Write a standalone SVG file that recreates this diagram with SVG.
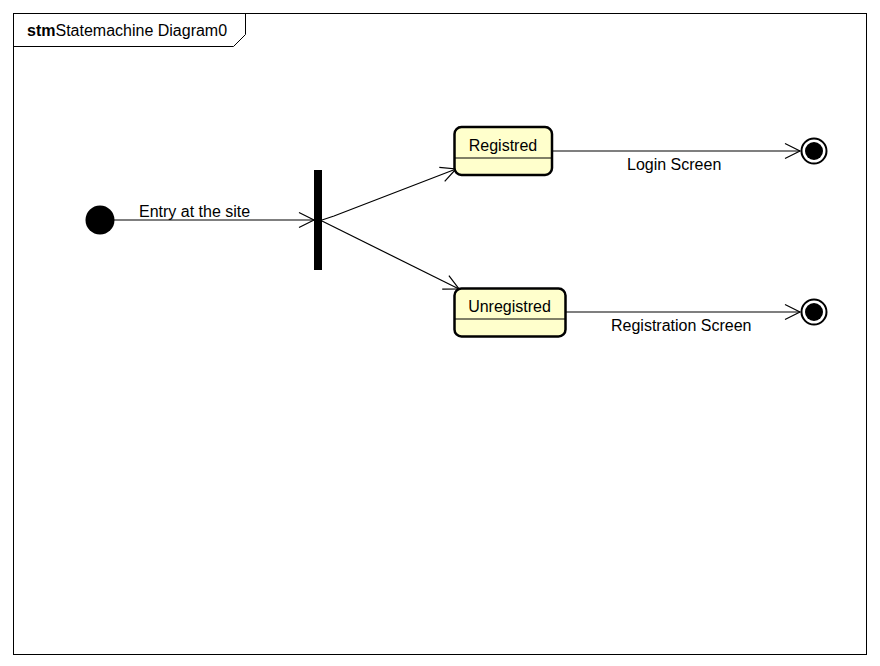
<svg xmlns="http://www.w3.org/2000/svg" width="880" height="666" viewBox="0 0 880 666">
<style>
text{font-family:"Liberation Sans",Arial,sans-serif;font-size:16px;fill:#000}
.state{fill:#ffffcc;stroke:#000;stroke-width:2.5}
.sep{stroke:#000;stroke-width:1}
.conn{fill:none;stroke:#000;stroke-width:1.2}
.final-o{fill:#fff;stroke:#000;stroke-width:2}
</style>
<defs>
<marker id="open" markerUnits="userSpaceOnUse" markerWidth="18" markerHeight="18" viewBox="0 0 18 18" refX="16" refY="9" orient="auto">
<path d="M1,1.5 L16,9 L1,16.5" fill="none" stroke="#000" stroke-width="1.2"/>
</marker>
</defs>
<rect x="0" y="0" width="880" height="666" fill="#fff"/>
<g id="frame">
<rect x="13.5" y="13.5" width="853" height="641" fill="none" stroke="#000" stroke-width="1"/>
<path d="M13.5,46.5 L233.5,46.5 L245.5,34.5 L245.5,13.5" fill="none" stroke="#000" stroke-width="1"/>
<text x="27" y="36"><tspan font-weight="bold">stm</tspan>Statemachine Diagram0</text>
</g>
<g id="connectors">
<path class="conn" d="M114,220 L314,220" marker-end="url(#open)"/>
<path class="conn" d="M322,220 L334,216 L456,169" marker-end="url(#open)"/>
<path class="conn" d="M322,221 L459,289" marker-end="url(#open)"/>
<path class="conn" d="M552,151 L800,151" marker-end="url(#open)"/>
<path class="conn" d="M566,312 L800,312" marker-end="url(#open)"/>
<text x="139" y="217">Entry at the site</text>
<text x="627" y="170">Login Screen</text>
<text x="611" y="331">Registration Screen</text>
</g>
<g id="initial">
<circle cx="100" cy="220" r="14.5" fill="#000"/>
</g>
<g id="fork">
<rect x="314" y="170" width="8" height="100" fill="#000"/>
</g>
<g id="registred">
<rect class="state" x="454.5" y="127" width="97.5" height="48" rx="7"/>
<line class="sep" x1="455" y1="158" x2="551" y2="158"/>
<text x="503" y="151" text-anchor="middle">Registred</text>
</g>
<g id="unregistred">
<rect class="state" x="454.5" y="288.5" width="111" height="48" rx="7"/>
<line class="sep" x1="455" y1="319" x2="565" y2="319"/>
<text x="509.5" y="312" text-anchor="middle">Unregistred</text>
</g>
<g id="final1">
<circle class="final-o" cx="814" cy="151" r="12.5"/>
<circle cx="814" cy="151" r="9" fill="#000"/>
</g>
<g id="final2">
<circle class="final-o" cx="814" cy="312" r="12.5"/>
<circle cx="814" cy="312" r="9" fill="#000"/>
</g>
</svg>
